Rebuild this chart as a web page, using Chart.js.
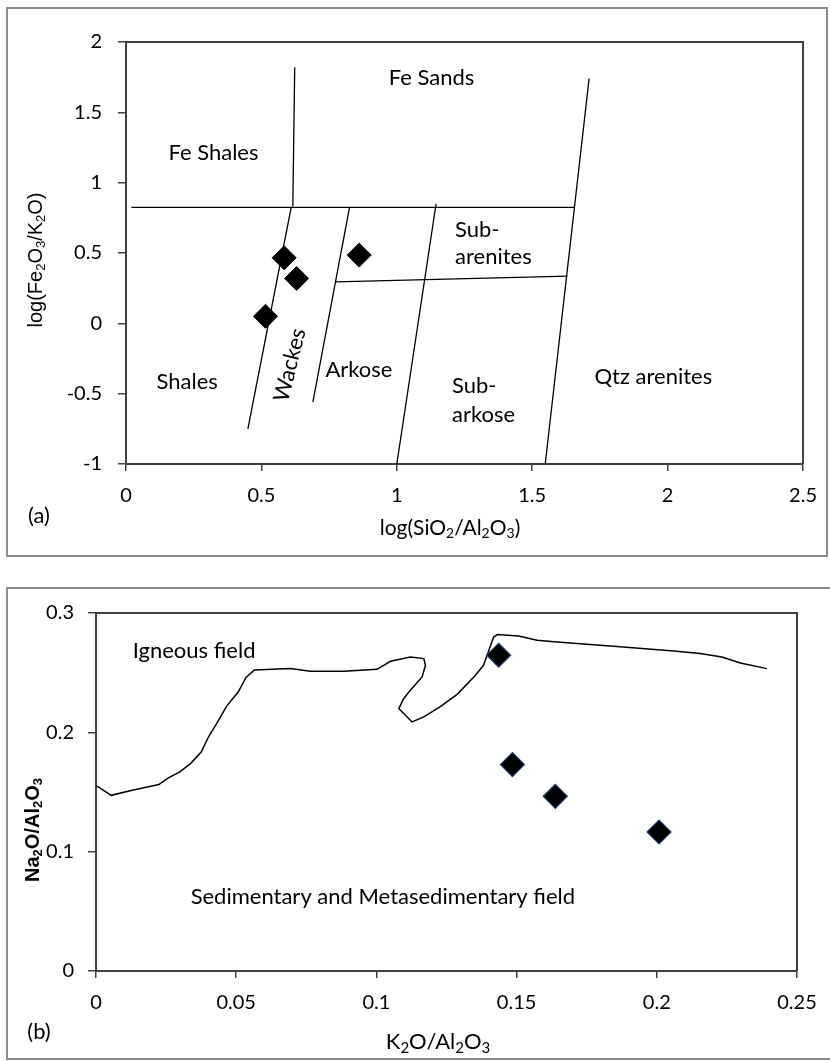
<!DOCTYPE html>
<html>
<head>
<meta charset="utf-8">
<script src="https://cdn.jsdelivr.net/npm/chart.js@4.4.1/dist/chart.umd.min.js"></script>
<style>
body { margin: 0; background: #fff; width: 830px; height: 1061px; position: relative; overflow: hidden; }
.frame { position: absolute; border: 2px solid #8c8c8c; box-sizing: border-box; }
canvas { position: absolute; left: 0; }
</style>
</head>
<body>
<div class="frame" style="left:6px;top:7px;width:822px;height:550px"></div>
<div class="frame" style="left:6px;top:587px;width:830px;height:473px"></div>
<canvas id="chartA" width="830" height="565" style="top:0"></canvas>
<canvas id="chartB" width="830" height="491" style="top:570px"></canvas>
<script>
// (a) log(SiO2/Al2O3) vs log(Fe2O3/K2O) samples
var siAlLog = [0.584, 0.630, 0.515, 0.861];
var feKLog = [0.466, 0.319, 0.050, 0.485];

// (a) field boundaries, [x, y] end points
var feShaleLine = [[0.623, 1.82], [0.616, 0.83]];
var feTopLine = [[0.02, 0.825], [1.655, 0.825]];
var wackeLine = [[0.61, 0.825], [0.45, -0.75]];
var arkoseLine = [[0.825, 0.82], [0.69, -0.56]];
var subArenLine = [[0.775, 0.295], [1.63, 0.335]];
var subArkLine = [[1.145, 0.85], [1.0, -1.0]];
var qtzLine = [[1.71, 1.74], [1.548, -1.0]];

var xTicksA = [0, 0.5, 1, 1.5, 2, 2.5];
var yTicksA = [-1, -0.5, 0, 0.5, 1, 1.5, 2];

// (b) K2O/Al2O3 vs Na2O/Al2O3 samples
var k2oAl = [0.1436, 0.1485, 0.1638, 0.2008];
var na2oAl = [0.2646, 0.173, 0.1464, 0.1165];

// (b) igneous field boundary
var igneousX = [0.000, 0.0054, 0.0129, 0.0224, 0.0258, 0.0299, 0.0337, 0.0375, 0.0401, 0.0430,
  0.0466, 0.0507, 0.0535, 0.0565, 0.0693, 0.0765, 0.0883, 0.1002, 0.1032, 0.1050,
  0.1121, 0.1169, 0.1175, 0.1163, 0.1121, 0.1097, 0.1080, 0.1127, 0.1169, 0.1228,
  0.1288, 0.1350, 0.1382, 0.1400, 0.1418, 0.1432, 0.1507, 0.1573, 0.1644, 0.1846,
  0.2060, 0.2155, 0.2232, 0.2298, 0.2393];
var igneousY = [0.1556, 0.1472, 0.1514, 0.1562, 0.1618, 0.1668, 0.1738, 0.1835, 0.1961, 0.2073,
  0.2220, 0.2338, 0.2460, 0.2523, 0.2534, 0.2511, 0.2511, 0.2528, 0.2570, 0.2595,
  0.2631, 0.2618, 0.2562, 0.2464, 0.2352, 0.2282, 0.2199, 0.2087, 0.2129, 0.2215,
  0.2318, 0.2470, 0.2562, 0.2680, 0.2799, 0.2819, 0.2807, 0.2771, 0.2757, 0.2721,
  0.2682, 0.2660, 0.2631, 0.2581, 0.2534];

var xTicksB = [0, 0.05, 0.1, 0.15, 0.2, 0.25];
var yTicksB = [0, 0.1, 0.2, 0.3];

var tickFont = { family: 'Lato', size: 20 };
var axisCol = '#404040';

function toPoints(xs, ys) {
  return xs.map(function (x, i) { return { x: x, y: ys[i] }; });
}

function boundary(pair) {
  return {
    data: pair.map(function (p) { return { x: p[0], y: p[1] }; }),
    showLine: true, borderColor: '#000', borderWidth: 1.3,
    pointRadius: 0, fill: false, order: 2
  };
}

// draws text where "_2" style parts are subscripts
function drawSubText(ctx, str, x, y, font, angle) {
  var parts = str.split(/(_\d)/).filter(function (s) { return s.length; });
  var big = font.weight + ' ' + font.size + 'px ' + font.family;
  var small = font.weight + ' ' + Math.round(font.size * 0.66) + 'px ' + font.family;
  ctx.save();
  ctx.translate(x, y);
  ctx.rotate(angle || 0);
  ctx.textBaseline = 'middle';
  ctx.textAlign = 'left';
  ctx.fillStyle = '#000';
  var w = 0;
  parts.forEach(function (p) {
    ctx.font = p[0] == '_' ? small : big;
    w += ctx.measureText(p[0] == '_' ? p.slice(1) : p).width;
  });
  var cx = -w / 2;
  parts.forEach(function (p) {
    var sub = p[0] == '_';
    var t = sub ? p.slice(1) : p;
    ctx.font = sub ? small : big;
    ctx.fillText(t, cx, sub ? font.size * 0.28 : 0);
    cx += ctx.measureText(t).width;
  });
  ctx.restore();
}

function fmt(v) { return String(+v.toFixed(3)); }

function axes(xt, yt, yWidth, xHeight, yPad) {
  return {
    x: {
      type: 'linear', min: xt[0], max: xt[xt.length - 1],
      afterBuildTicks: function (s) { s.ticks = xt.map(function (v) { return { value: v }; }); },
      afterFit: function (s) { s.height = xHeight; },
      ticks: { font: tickFont, color: '#000', padding: 13, autoSkip: false, maxRotation: 0, callback: fmt },
      grid: { drawOnChartArea: false, drawTicks: true, tickLength: 7, color: axisCol, lineWidth: 1.5 },
      border: { display: true, color: axisCol, width: 2 }
    },
    y: {
      type: 'linear', min: yt[0], max: yt[yt.length - 1],
      afterBuildTicks: function (s) { s.ticks = yt.map(function (v) { return { value: v }; }); },
      afterFit: function (s) { s.width = yWidth; },
      ticks: { font: tickFont, color: '#000', padding: yPad, autoSkip: false, callback: fmt },
      grid: { drawOnChartArea: false, drawTicks: true, tickLength: 8, color: axisCol, lineWidth: 1.5 },
      border: { display: true, color: axisCol, width: 2 }
    }
  };
}

// frame on top and right of the plot area, plus the field names and titles
function decorPlugin(labels, titles) {
  return {
    id: 'decor',
    afterDraw: function (chart) {
      var ctx = chart.ctx, a = chart.chartArea;
      var sx = chart.scales.x, sy = chart.scales.y;
      ctx.save();
      ctx.strokeStyle = axisCol;
      ctx.lineWidth = 2;
      ctx.beginPath();
      ctx.moveTo(a.left, a.top);
      ctx.lineTo(a.right, a.top);
      ctx.lineTo(a.right, a.bottom);
      ctx.stroke();
      ctx.fillStyle = '#000';
      labels.forEach(function (l) {
        ctx.save();
        ctx.font = (l.style || '') + ' ' + l.size + 'px Lato';
        ctx.textAlign = l.align || 'center';
        ctx.textBaseline = l.base || 'alphabetic';
        ctx.translate(sx.getPixelForValue(l.x), sy.getPixelForValue(l.y));
        if (l.rot) ctx.rotate(l.rot * Math.PI / 180);
        ctx.fillText(l.text, 0, 0);
        ctx.restore();
      });
      titles.forEach(function (t) {
        drawSubText(ctx, t.text, t.px, t.py, t.font, t.rot);
      });
      ctx.restore();
    }
  };
}

var labelsA = [
  { text: 'Fe Sands', x: 1.128, y: 1.695, size: 22 },
  { text: 'Fe Shales', x: 0.323, y: 1.161, size: 22 },
  { text: 'Sub-', x: 1.215, y: 0.616, size: 22, align: 'left' },
  { text: 'arenites', x: 1.215, y: 0.422, size: 22, align: 'left' },
  { text: 'Shales', x: 0.226, y: -0.464, size: 22 },
  { text: 'Arkose', x: 0.860, y: -0.38, size: 22 },
  { text: 'Sub-', x: 1.204, y: -0.496, size: 22, align: 'left' },
  { text: 'arkose', x: 1.204, y: -0.70, size: 22, align: 'left' },
  { text: 'Qtz arenites', x: 1.730, y: -0.432, size: 22, align: 'left' },
  { text: 'Wackes', x: 0.605, y: -0.297, size: 22, base: 'middle', rot: -76 }
];
var titlesA = [
  { text: 'log(Fe_2O_3/K_2O)', px: 36, py: 260, rot: -Math.PI / 2, font: { family: 'Liberation Sans', size: 20, weight: 'normal' } },
  { text: 'log(SiO_2/Al_2O_3)', px: 450, py: 528, font: { family: 'Lato', size: 21, weight: 'normal' } },
  { text: '(a)', px: 39, py: 516, font: { family: 'Lato', size: 22, weight: 'normal' } }
];

new Chart(document.getElementById('chartA'), {
  type: 'scatter',
  data: {
    datasets: [
      {
        data: toPoints(siAlLog, feKLog), pointStyle: 'rectRot', pointRadius: 12,
        backgroundColor: '#000', borderColor: '#000', borderWidth: 1, order: 1
      },
      boundary(feShaleLine), boundary(feTopLine), boundary(wackeLine), boundary(arkoseLine),
      boundary(subArenLine), boundary(subArkLine), boundary(qtzLine)
    ]
  },
  options: {
    responsive: false, animation: false,
    layout: { padding: { left: 0, right: 19, top: 42, bottom: 0 } },
    plugins: { legend: { display: false }, tooltip: { enabled: false } },
    scales: axes(xTicksA, yTicksA, 126, 101, 16)
  },
  plugins: [decorPlugin(labelsA, titlesA)]
});

var labelsB = [
  { text: 'Igneous field', x: 0.0131, y: 0.2626, size: 22, align: 'left' },
  { text: 'Sedimentary and Metasedimentary field', x: 0.1023, y: 0.0565, size: 22 }
];
var titlesB = [
  { text: 'Na_2O/Al_2O_3', px: 33, py: 260, rot: -Math.PI / 2, font: { family: 'Liberation Sans', size: 20, weight: 'bold' } },
  { text: 'K_2O/Al_2O_3', px: 438, py: 472, font: { family: 'Lato', size: 22, weight: 'normal' } },
  { text: '(b)', px: 39, py: 462, font: { family: 'Lato', size: 22, weight: 'normal' } }
];

new Chart(document.getElementById('chartB'), {
  type: 'scatter',
  data: {
    datasets: [
      {
        data: toPoints(k2oAl, na2oAl), pointStyle: 'rectRot', pointRadius: 12,
        backgroundColor: '#000', borderColor: '#1f3864', borderWidth: 1.2, order: 1
      },
      {
        data: toPoints(igneousX, igneousY), showLine: true, borderColor: '#000', borderWidth: 1.5,
        pointRadius: 0, fill: false, tension: 0, order: 2
      }
    ]
  },
  options: {
    responsive: false, animation: false,
    layout: { padding: { left: 0, right: 33, top: 43, bottom: 0 } },
    plugins: { legend: { display: false }, tooltip: { enabled: false } },
    scales: axes(xTicksB, yTicksB, 96, 90, 14)
  },
  plugins: [decorPlugin(labelsB, titlesB)]
});
</script>
</body>
</html>
